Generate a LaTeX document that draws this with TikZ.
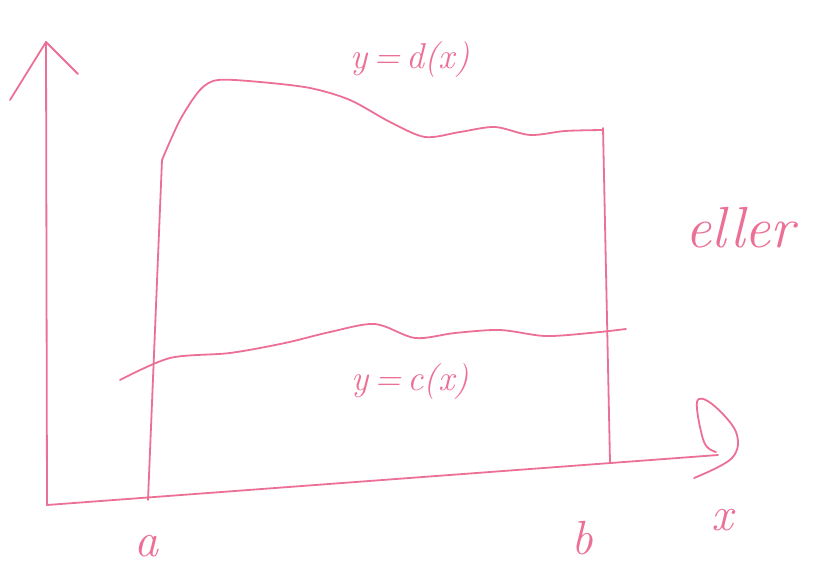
\documentclass[tikz,border=0pt]{standalone}
\usepackage{fontspec}
\setmainfont{Latin Modern Roman}
\usepackage{tikz}
\definecolor{handpink}{RGB}{236,112,150}
\begin{document}
\begin{tikzpicture}[x=1pt,y=-1pt,
  pen/.style={draw=handpink,line width=1.8pt,line cap=round,line join=round},
  lbl/.style={text=handpink,font=\fontsize{36}{42}\selectfont\itshape,inner sep=0pt},
  big/.style={lbl,font=\fontsize{48}{54}\selectfont\itshape}]
\useasboundingbox (0,0) rectangle (821,572);
% axes
\coordinate (O) at (47,505);
\coordinate (Ytop) at (46,42);
\coordinate (Xend) at (718,455);
\draw[pen] (O) -- (Ytop);
\draw[pen] (Ytop) -- (10,100);
\draw[pen] (Ytop) -- (78,74);
\draw[pen] (O) -- (Xend);
\draw[pen] plot[smooth,tension=0.6] coordinates {(716,452) (704,442) (697,402) (712,404) (736,432) (732,458) (694,478)};
% vertical lines x=a, x=b
\coordinate (Atop) at (162,160);
\coordinate (Abot) at (148,500);
\coordinate (Btop) at (603,128);
\coordinate (Bbot) at (610,462);
\draw[pen] (Atop) -- (Abot);
\draw[pen] (Btop) -- (Bbot);
% upper curve y=d(x)
\draw[pen] plot[smooth,tension=0.5] coordinates {(162,160) (180,120) (200,90) (218,80) (260,82) (310,88) (350,100) (390,122) (425,137) (460,132) (495,127) (530,135) (565,131) (603,130)};
% lower curve y=c(x)
\draw[pen] plot[smooth,tension=0.5] coordinates {(120,380) (170,358) (230,353) (285,343) (330,332) (375,324) (415,338) (455,333) (500,330) (545,336) (590,333) (626,329)};
% labels
\node[lbl] (dlab) at (410,60) {y\,=\,d(x)};
\node[lbl] (clab) at (410,382) {y\,=\,c(x)};
\node[big] (alab) at (146,546) {a};
\node[big] (blab) at (582,538) {b};
\node[big] (xlab) at (722,520) {x};
\node[big,font=\fontsize{58}{64}\selectfont\itshape] (eller) at (740,228) {eller};
\end{tikzpicture}
\end{document}
